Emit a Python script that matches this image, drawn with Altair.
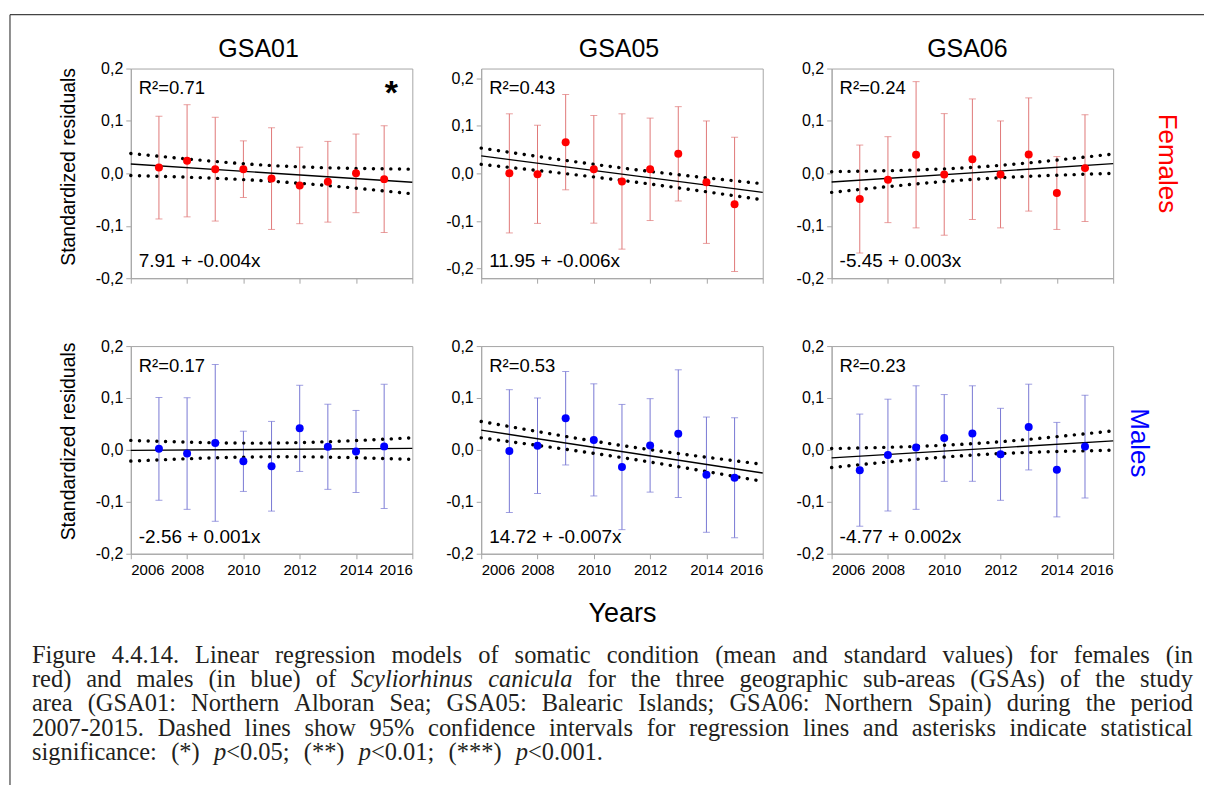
import re
import altair as alt
import pandas as pd

# ---------------------------------------------------------------- data
YEARS = list(range(2007, 2016))
LINE_X = [2006, 2016]          # regression line drawn across the axis range
BAND_X = [2006, 2011, 2016]    # points

# Females - yearly mean residual and half-width of the error bar
f01_mean = [0.011, 0.024, 0.008, 0.008, -0.010, -0.023, -0.016, 0.000, -0.011]
f01_err = [0.098, 0.107, 0.099, 0.054, 0.097, 0.073, 0.077, 0.075, 0.102]
f01_fit = [0.018, -0.017]
f01_ci_hi = [0.038, 0.015, 0.008]
f01_ci_lo = [-0.004, -0.015, -0.039]

f05_mean = [0.000, -0.002, 0.0655, 0.0085, -0.017, 0.0085, 0.041, -0.0185, -0.065]
f05_err = [0.125, 0.103, 0.100, 0.113, 0.142, 0.1075, 0.099, 0.1285, 0.141]
f05_fit = [0.0366, -0.040]
f05_ci_hi = [0.053, 0.0113, -0.0218]
f05_ci_lo = [0.019, -0.0148, -0.0556]

f06_mean = [-0.049, -0.012, 0.0355, -0.002, 0.027, -0.002, 0.036, -0.0375, 0.010]
f06_err = [0.103, 0.082, 0.1395, 0.116, 0.115, 0.102, 0.108, 0.0695, 0.102]
f06_fit = [-0.0166, 0.0185]
f06_ci_hi = [0.0032, 0.0115, 0.037]
f06_ci_lo = [-0.0363, -0.0115, 0.000]

# Males
m01_mean = [0.002, -0.007, 0.0135, -0.022, -0.0315, 0.0415, 0.006, -0.003, 0.0068]
m01_err = [0.099, 0.1075, 0.151, 0.058, 0.0864, 0.083, 0.082, 0.079, 0.1195]
m01_fit = [-0.001, 0.003]
m01_ci_hi = [0.0183, 0.0132, 0.0234]
m01_ci_lo = [-0.0215, -0.0132, -0.0183]

m05_mean = [-0.0023, 0.008, 0.061, 0.0193, -0.033, 0.0087, 0.0313, -0.0477, -0.0535]
m05_err = [0.1183, 0.092, 0.090, 0.108, 0.1206, 0.090, 0.123, 0.111, 0.1155]
m05_fit = [0.038, -0.0445]
m05_ci_hi = [0.0548, 0.0084, -0.0277]
m05_ci_lo = [0.0232, -0.0148, -0.0606]

m06_mean = [-0.039, -0.010, 0.0045, 0.023, 0.0315, -0.0085, 0.044, -0.038, 0.0065]
m06_err = [0.108, 0.1077, 0.119, 0.0836, 0.092, 0.0886, 0.0826, 0.091, 0.099]
m06_fit = [-0.0154, 0.0174]
m06_ci_hi = [0.0026, 0.012, 0.0367]
m06_ci_lo = [-0.034, -0.010, -0.0006]

AREAS = ["GSA01", "GSA05", "GSA06"]
R2_F = ["R²=0.71", "R²=0.43", "R²=0.24"]
R2_M = ["R²=0.17", "R²=0.53", "R²=0.23"]
EQ_F = ["7.91 + -0.004x", "11.95 + -0.006x", "-5.45 + 0.003x"]
EQ_M = ["-2.56 + 0.001x", "14.72 + -0.007x", "-4.77 + 0.002x"]
SIGNIF_F = ["*", "", ""]
ROW_LABELS = ["Females", "Males"]
X_TICKS = [2006, 2008, 2010, 2012, 2014, 2016]
Y_TICKS = [-0.2, -0.1, 0.0, 0.1, 0.2]

CAPTION = [
    "Figure 4.4.14. Linear regression models of somatic condition (mean and standard values) for females (in",
    "red) and males (in blue) of {Scyliorhinus} {canicula} for the three geographic sub-areas (GSAs) of the study",
    "area (GSA01: Northern Alboran Sea; GSA05: Balearic Islands; GSA06: Northern Spain) during the period",
    "2007-2015. Dashed lines show 95% confidence intervals for regression lines and asterisks indicate statistical",
    "significance: (*) {p}<0.05; (**) {p}<0.01; (***) {p}<0.001.",
]

# ---------------------------------------------------------------- style
GRAY = "#a6a6a6"
SANS = "Liberation Sans"
SERIF = "Liberation Serif"
RED, RED_BAR = "#ff0000", "#e07878"
BLUE, BLUE_BAR = "#0000ff", "#7878d4"
W, H_TOP, H_BOT = 282, 210, 208
ROW_GAP, COL_GAP = 68, 69
COL_X = [130, 481, 832]        # left edge of each plot column
ROW_Y = [67, 345]              # top edge of each plot row
CAPTION_TOP = ROW_Y[1] + H_TOP + ROW_GAP   # grid rows share the tallest height

Y_LABELS = "(datum.value < 0 ? '-' : '') + replace(format(abs(datum.value), '.1f'), '.', ',')"


def one_row(text):
    return pd.DataFrame({"t": [text]})


def label(text, x, y, size, align="left", baseline="alphabetic", color="black", **kw):
    return alt.Chart(one_row(text)).mark_text(
        align=align, baseline=baseline, font=SANS, fontSize=size, color=color, **kw
    ).encode(x=alt.value(x), y=alt.value(y), text="t:N")


def panel(mean, err, fit, ci_hi, ci_lo, r2, eq, dot, bar, ydom, h,
          left, bottom, title=None, title_dx=0, xtitle=None, extras=()):
    xs = alt.Scale(domain=[2006, 2016], nice=False, zero=False)
    ys = alt.Scale(domain=ydom, nice=False, zero=False)
    xax = alt.Axis(values=X_TICKS, format="d", labels=bottom, tickSize=5,
                   labelPadding=4, labelFontSize=15, title=xtitle, titleFontSize=27,
                   titleBaseline="alphabetic", titleY=68)
    if left:
        yax = alt.Axis(values=Y_TICKS, labelExpr=Y_LABELS, tickSize=5, labelPadding=3,
                       title="Standardized residuals", titleFontSize=19.5,
                       titleBaseline="alphabetic", titleX=-56,
                       titleY=98 if h == H_TOP else 95)
    else:
        yax = alt.Axis(values=Y_TICKS, labelExpr=Y_LABELS, tickSize=5, labelPadding=3,
                       title=None)
    X = alt.X("year:Q", scale=xs, axis=xax)

    def Y(field):
        return alt.Y(field, scale=ys, axis=yax)

    pts = pd.DataFrame({
        "year": YEARS,
        "mean": mean,
        "lo": [m - e for m, e in zip(mean, err)],
        "hi": [m + e for m, e in zip(mean, err)],
    })
    base = alt.Chart(pts)
    bars = base.mark_rule(color=bar, strokeWidth=1).encode(x=X, y=Y("lo:Q"), y2="hi:Q")
    cap_lo = base.mark_tick(color=bar, thickness=1, size=7, orient="horizontal").encode(x=X, y=Y("lo:Q"))
    cap_hi = base.mark_tick(color=bar, thickness=1, size=7, orient="horizontal").encode(x=X, y=Y("hi:Q"))
    dots = base.mark_circle(size=64, color=dot, opacity=1).encode(x=X, y=Y("mean:Q"))

    fit_df = pd.DataFrame({"year": LINE_X, "v": fit})
    fit_line = alt.Chart(fit_df).mark_line(color="black", strokeWidth=1.4).encode(x=X, y=Y("v:Q"))

    band_df = pd.DataFrame({
        "year": BAND_X + BAND_X,
        "v": list(ci_hi) + list(ci_lo),
        "bound": ["upper"] * len(BAND_X) + ["lower"] * len(BAND_X),
    })
    band = alt.Chart(band_df).mark_line(
        color="black", strokeWidth=3.4, strokeDash=[0.1, 8.6], strokeCap="round",
        interpolate="natural",
    ).encode(x=X, y=Y("v:Q"), detail="bound:N")

    layers = [bars, cap_lo, cap_hi, band, fit_line, dots,
              label(r2, 8, 26, 18.5), label(eq, 8, h - 11, 19)]
    if title:
        layers.append(label(title, W / 2 + title_dx, -12, 25, align="center"))
    layers.extend(extras)
    return alt.layer(*layers).properties(width=W, height=h)


# significance star of GSA01 females
star = label(SIGNIF_F[0], 261, 36, 34, align="center", fontWeight="bold")

fem_lbl = label(ROW_LABELS[0], 1168 - COL_X[2], 95, 26, align="center",
                baseline="middle", color=RED, angle=90)
mal_lbl = label(ROW_LABELS[1], 1140 - COL_X[2], 97, 26, align="center",
                baseline="middle", color=BLUE, angle=90)

TOP_DOM = [-0.2, 0.2]
p1 = panel(f01_mean, f01_err, f01_fit, f01_ci_hi, f01_ci_lo, R2_F[0], EQ_F[0], RED, RED_BAR,
           TOP_DOM, H_TOP, True, False, AREAS[0], -13, extras=(star,))
p2 = panel(f05_mean, f05_err, f05_fit, f05_ci_hi, f05_ci_lo, R2_F[1], EQ_F[1], RED, RED_BAR,
           [-0.22, 0.22], H_TOP, False, False, AREAS[1], -3)
p3 = panel(f06_mean, f06_err, f06_fit, f06_ci_hi, f06_ci_lo, R2_F[2], EQ_F[2], RED, RED_BAR,
           TOP_DOM, H_TOP, False, False, AREAS[2], -5, extras=(fem_lbl,))
p4 = panel(m01_mean, m01_err, m01_fit, m01_ci_hi, m01_ci_lo, R2_M[0], EQ_M[0], BLUE, BLUE_BAR,
           TOP_DOM, H_BOT, True, True)
p5 = panel(m05_mean, m05_err, m05_fit, m05_ci_hi, m05_ci_lo, R2_M[1], EQ_M[1], BLUE, BLUE_BAR,
           TOP_DOM, H_BOT, False, True, xtitle="Years")
p6 = panel(m06_mean, m06_err, m06_fit, m06_ci_hi, m06_ci_lo, R2_M[2], EQ_M[2], BLUE, BLUE_BAR,
           TOP_DOM, H_BOT, False, True, extras=(mal_lbl,))

# ---------------------------------------------------------------- caption
# Times/Liberation Serif advance widths (1/1000 em) for justified setting
ROMAN_W = {" ": 250, "(": 333, ")": 333, "*": 500, ",": 250, "-": 333, ".": 250,
           ":": 278, ";": 278, "<": 564, "%": 833}
ROMAN_W.update({d: 500 for d in "0123456789"})
ROMAN_W.update(dict(zip("ABCDEFGHIJKLMNOPQRSTUVWXYZ",
                        [722, 667, 667, 722, 611, 556, 722, 722, 333, 389, 722, 611, 889,
                         722, 722, 556, 722, 667, 556, 611, 722, 722, 944, 722, 722, 611])))
ROMAN_W.update(dict(zip("abcdefghijklmnopqrstuvwxyz",
                        [444, 500, 444, 500, 444, 333, 500, 500, 278, 278, 500, 278, 778,
                         500, 500, 500, 500, 333, 389, 278, 500, 500, 722, 500, 500, 444])))
ITALIC_W = {"S": 500, "c": 444, "y": 444, "l": 278, "i": 278, "o": 500, "r": 389,
            "h": 500, "n": 500, "u": 500, "s": 389, "a": 500, "p": 500}

CAP_FS = 24.5
CAP_X0 = 31
CAP_X1 = [1194, 1194, 1194, 1194, 603]     # right edge of each caption line
CAP_BASE = [662, 686.5, 711, 735.5, 760]


def seg_width(text, italic):
    tbl = ITALIC_W if italic else ROMAN_W
    return sum(tbl.get(c, 500) for c in text) / 1000 * CAP_FS


cap_rows = []
for i, line in enumerate(CAPTION):
    words = []
    for w in line.split(" "):
        words.append([(m.group(1) if m.group(1) is not None else m.group(2), m.group(1) is not None)
                      for m in re.finditer(r"\{([^}]*)\}|([^{]+)", w)])
    widths = [sum(seg_width(t, it) for t, it in wd) for wd in words]
    gap = (CAP_X1[i] - CAP_X0 - sum(widths)) / (len(words) - 1)
    x = CAP_X0
    for wd, wdw in zip(words, widths):
        px = x
        for t, it in wd:
            cap_rows.append({"x": px - COL_X[0], "y": CAP_BASE[i] - CAPTION_TOP, "t": t, "italic": it})
            px += seg_width(t, it)
        x += wdw + gap

cap_df = pd.DataFrame(cap_rows)
px_scale = alt.Scale(domain=[0, 100], range=[0, 100])


def caption_layer(df, style):
    return alt.Chart(df).mark_text(
        align="left", baseline="alphabetic", font=SERIF, fontSize=CAP_FS,
        fontStyle=style, color="#231f20"
    ).encode(
        x=alt.X("x:Q", scale=px_scale, axis=None),
        y=alt.Y("y:Q", scale=px_scale, axis=None),
        text="t:N",
    )


# page frame (left and top rule), placed from the caption cell
frame_top = alt.Chart(one_row("")).mark_rule(color="#444444", strokeWidth=1.2).encode(
    x=alt.value(9 - COL_X[0]), x2=alt.value(1205 - COL_X[0]), y=alt.value(13 - CAPTION_TOP))
frame_left = alt.Chart(one_row("")).mark_rule(color="#444444", strokeWidth=1.2).encode(
    x=alt.value(9 - COL_X[0]), y=alt.value(13 - CAPTION_TOP), y2=alt.value(785 - CAPTION_TOP))

caption = alt.layer(
    caption_layer(cap_df[~cap_df["italic"]], "normal"),
    caption_layer(cap_df[cap_df["italic"]], "italic"),
    frame_top, frame_left,
).properties(width=100, height=100, view=alt.ViewBackground(strokeOpacity=0))

# ---------------------------------------------------------------- layout
chart = alt.concat(
    p1, p2, p3, p4, p5, p6, caption,
    columns=3, spacing={"row": ROW_GAP, "column": COL_GAP}, bounds="flush", align="all",
).properties(
    padding={"left": 9, "top": 13, "right": 0, "bottom": 0},
    background="white",
).configure_axis(
    domainColor=GRAY, tickColor=GRAY, domainWidth=1, tickWidth=1, grid=False,
    labelFont=SANS, labelFontSize=16, labelColor="black",
    titleFont=SANS, titleFontWeight="normal", titleColor="black",
).configure_view(stroke=GRAY, strokeWidth=1)

chart.save("out.html", embed_options={"renderer": "svg", "actions": False})
